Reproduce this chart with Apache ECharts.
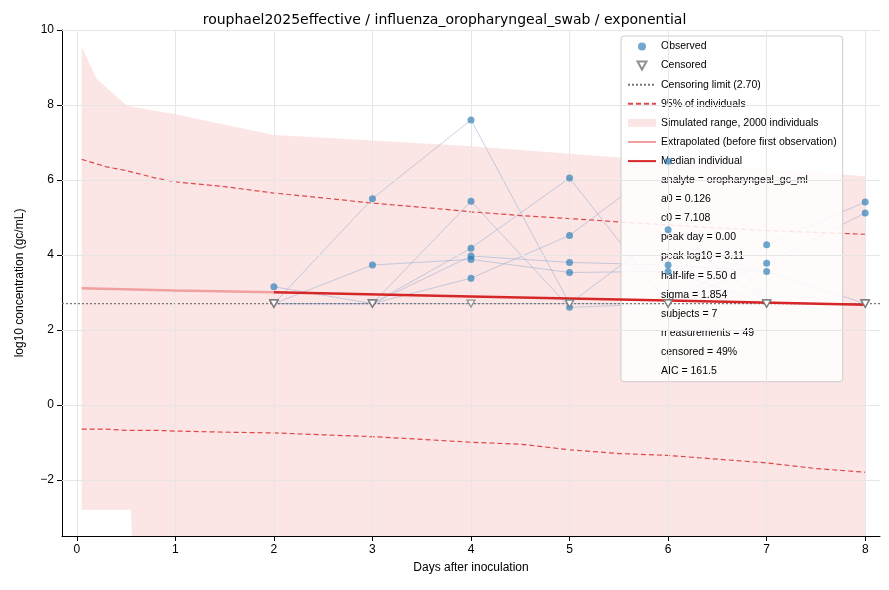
<!DOCTYPE html><html><head><meta charset="utf-8"><script src="https://cdn.jsdelivr.net/npm/echarts@6/dist/echarts.min.js"></script></head><body style="margin:0"><div id="c" style="width:889px;height:590px"></div><script>
const days=[2,3,4,5,6,7,8];
const LOD=2.7;
// subject values; null = censored (plotted at LOD)
const subjects=[
[3.15,null,3.97,3.8,3.73,3.56,null],
[null,5.5,7.6,null,4.67,null,null],
[null,3.73,3.88,3.53,3.56,null,null],
[null,null,5.43,2.6,null,3.78,5.12],
[null,null,4.18,6.05,null,4.27,5.41],
[null,null,3.38,4.52,6.5,null,null],
[null,null,null,null,null,null,null]];
const bandX=[0.05,0.2,0.5,0.55,0.56,1,2,3,4,5,6,7,8];
const simUpper=[9.55,8.7,8.0,7.95,7.95,7.75,7.2,7.05,6.9,6.7,6.5,6.3,6.1];
const simLower=[-2.8,-2.8,-2.8,-2.8,-3.5,-3.5,-3.5,-3.5,-3.5,-3.5,-3.5,-3.5,-3.5];
const p95X=[0.05,0.3,0.5,0.8,1,1.5,2,2.5,3,3.5,4,4.5,5,5.5,6,6.5,7,7.5,8];
const p95Upper=[6.55,6.35,6.25,6.05,5.95,5.82,5.65,5.52,5.38,5.27,5.15,5.05,4.97,4.88,4.8,4.72,4.65,4.6,4.55];
const p95Lower=[-0.65,-0.65,-0.68,-0.68,-0.7,-0.73,-0.75,-0.8,-0.85,-0.92,-1.0,-1.05,-1.2,-1.3,-1.35,-1.45,-1.55,-1.7,-1.8];
const extrapX=[0.05,1,2];const extrapY=[3.11,3.05,3.0];
const medX=[2,4,6,8];const medY=[3.0,2.89,2.78,2.67];
const xTicks=[0,1,2,3,4,5,6,7,8];
const yTicks=[-2,0,2,4,6,8,10];
const stats=['analyte = oropharyngeal_gc_ml','a0 = 0.126','c0 = 7.108','peak day = 0.00','peak log10 = 3.11','half-life = 5.50 d','sigma = 1.854','subjects = 7','measurements = 49','censored = 49%','AIC = 161.5'];
const tri='path://M0,0L10,0L5,9Z';
const obs=[],cen=[];const series=[];
subjects.forEach(s=>{series.push({type:'line',data:s.map((v,i)=>[days[i],v==null?LOD:v]),symbol:'none',lineStyle:{color:'rgba(150,175,210,0.55)',width:1},silent:true,z:3});
 s.forEach((v,i)=>{if(v==null)cen.push([days[i],LOD]);else obs.push([days[i],v]);});});
const PINK='rgba(240,150,150,0.25)';
const bandData=bandX.map((x,i)=>[x,simUpper[i],simLower[i]]);
series.push(
{name:'Simulated range, 2000 individuals',type:'custom',data:bandData,clip:true,z:1,itemStyle:{color:PINK},
 renderItem:(params,api)=>{if(params.dataIndex!==0)return null;const up=bandData.map(d=>api.coord([d[0],d[1]]));const lo=bandData.slice().reverse().map(d=>api.coord([d[0],d[2]]));
  return {type:'polygon',shape:{points:up.concat(lo)},style:{fill:PINK}};}},
{name:'95% of individuals',type:'line',data:p95X.map((x,i)=>[x,p95Upper[i]]),symbol:'none',lineStyle:{color:'#e04848',width:1.2,type:[5,3]},itemStyle:{color:'#e04848'},z:2},
{name:'95% of individuals',type:'line',data:p95X.map((x,i)=>[x,p95Lower[i]]),symbol:'none',lineStyle:{color:'#e04848',width:1.2,type:[5,3]},z:2},
{name:'Censoring limit (2.70)',type:'line',data:[[-0.15,LOD],[8.15,LOD]],symbol:'none',lineStyle:{color:'#777',width:1.2,type:[2,2]},itemStyle:{color:'#777'},z:4},
{name:'Extrapolated (before first observation)',type:'line',data:extrapX.map((x,i)=>[x,extrapY[i]]),symbol:'none',lineStyle:{color:'#f0a0a0',width:2.5},itemStyle:{color:'#f0a0a0'},z:5},
{name:'Median individual',type:'line',data:medX.map((x,i)=>[x,medY[i]]),symbol:'none',lineStyle:{color:'#d62728',width:2.5},itemStyle:{color:'#d62728'},z:5},
{name:'Observed',type:'scatter',data:obs,symbolSize:7,itemStyle:{color:'rgba(31,119,180,0.8)'},z:6},
{name:'Censored',type:'scatter',data:cen,symbol:tri,symbolSize:[8,7],itemStyle:{color:'#fff',borderColor:'#777',borderWidth:1.2},z:6});
stats.forEach(n=>series.push({name:n,type:'line',data:[]}));
const noDot={opacity:0};
const legendData=[{name:'Observed',icon:'circle',itemStyle:{color:'rgba(31,119,180,0.8)'}},{name:'Censored',icon:tri},{name:'Censoring limit (2.70)',itemStyle:noDot},{name:'95% of individuals',itemStyle:noDot},{name:'Simulated range, 2000 individuals',icon:'rect',itemStyle:{color:PINK}},{name:'Extrapolated (before first observation)',itemStyle:noDot},{name:'Median individual',itemStyle:noDot}].concat(stats.map(n=>({name:n,icon:'none'})));
const chart=echarts.init(document.getElementById('c'));
chart.setOption({animation:false,
title:{text:'rouphael2025effective / influenza_oropharyngeal_swab / exponential',left:'center',top:8,textStyle:{fontSize:14,fontWeight:'normal',color:'#000',fontFamily:'DejaVu Sans'}},
grid:{left:62,right:9,top:30,bottom:54},
xAxis:{type:'value',min:-0.15,max:8.15,name:'Days after inoculation',nameLocation:'middle',nameGap:26,nameTextStyle:{fontSize:12,color:'#000'},
 axisLabel:{color:'#000',fontSize:12,customValues:xTicks},axisLine:{onZero:false,lineStyle:{color:'#000'}},axisTick:{show:true,customValues:xTicks},
 splitLine:{show:false}},
yAxis:{type:'value',min:-3.5,max:10,name:'log10 concentration (gc/mL)',nameLocation:'middle',nameGap:36,nameTextStyle:{fontSize:12,color:'#000'},
 axisLabel:{color:'#000',fontSize:12,customValues:yTicks,formatter:v=>v<0?'\u2212'+(-v):v},axisTick:{show:true,customValues:yTicks},axisLine:{show:true,onZero:false,lineStyle:{color:'#000'}},
 splitLine:{show:false}},
legend:{data:legendData,orient:'vertical',left:621,top:36,backgroundColor:'rgba(255,255,255,0.85)',borderColor:'#ccc',borderWidth:1,borderRadius:3,padding:[5,6,5,6],itemWidth:28,itemHeight:8,itemGap:8.1,textStyle:{fontSize:10.5,color:'#000'},selectedMode:false},
series:series.concat([
 {type:'line',data:[],markLine:{silent:true,symbol:'none',label:{show:false},lineStyle:{color:'#e6e6e6',type:'solid',width:1},data:xTicks.map(v=>({xAxis:v})).concat(yTicks.map(v=>({yAxis:v})))},z:0}])});
</script></body></html>
